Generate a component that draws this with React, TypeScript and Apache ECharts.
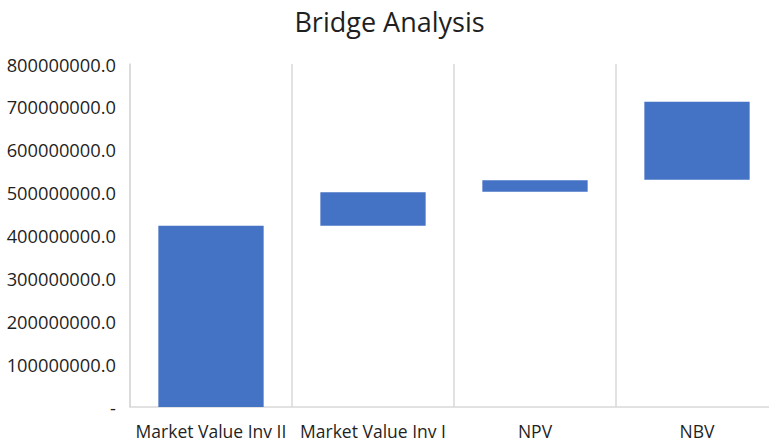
import React, { useEffect, useRef } from "react";
import * as echarts from "echarts";

const categories = ["Market Value Inv II", "Market Value Inv I", "NPV", "NBV"];
const baseValues = [0, 423000000, 502000000, 530000000];
const deltaValues = [423000000, 78000000, 27000000, 182000000];
const yTicks = [0, 100000000, 200000000, 300000000, 400000000, 500000000, 600000000, 700000000, 800000000];

const FONT = "'Open Sans', 'Noto Sans', sans-serif";

export default function App() {
  const ref = useRef<HTMLDivElement>(null);
  useEffect(() => {
    if (!ref.current) return;
    const chart = echarts.init(ref.current, undefined, { renderer: "svg" });
    chart.setOption({
      animation: false,
      backgroundColor: "#ffffff",
      title: {
        text: "Bridge Analysis",
        left: 384.5,
        textAlign: "center",
        top: 3,
        textStyle: { fontFamily: FONT, fontSize: 27, fontWeight: "normal", color: "#1f1f1f" },
      },
      grid: { left: 130, width: 648, top: 64, bottom: 37, containLabel: false },
      xAxis: {
        type: "category",
        data: categories,
        axisLine: { show: true, lineStyle: { color: "#d9d9d9", width: 1.5 } },
        axisTick: { show: false },
        axisLabel: { interval: 0, margin: 15, fontFamily: FONT, fontSize: 17.5, color: "#1f1f1f" },
        splitLine: { show: true, lineStyle: { color: "#d9d9d9", width: 1.5 } },
      },
      yAxis: {
        type: "value",
        min: yTicks[0],
        max: yTicks[yTicks.length - 1],
        interval: yTicks[1] - yTicks[0],
        axisLine: { show: true, lineStyle: { color: "#d9d9d9", width: 1.5 } },
        axisTick: { show: false },
        splitLine: { show: false },
        axisLabel: {
          margin: 14,
          fontFamily: FONT,
          fontSize: 18.3,
          color: "#1f1f1f",
          formatter: (v: number) => (v === 0 ? "-" : v.toFixed(1)),
        },
      },
      series: [
        {
          type: "bar",
          stack: "bridge",
          data: baseValues,
          barWidth: "65%",
          itemStyle: { color: "transparent" },
          silent: true,
        },
        {
          type: "bar",
          stack: "bridge",
          data: deltaValues,
          barWidth: "65%",
          itemStyle: { color: "#4472C4" },
        },
      ],
    });
    return () => chart.dispose();
  }, []);
  return (
    <div style={{ width: 769, height: 444, position: "absolute", left: 0, top: 0, overflow: "hidden" }}>
      <div ref={ref} style={{ width: 782, height: 444 }} />
    </div>
  );
}
